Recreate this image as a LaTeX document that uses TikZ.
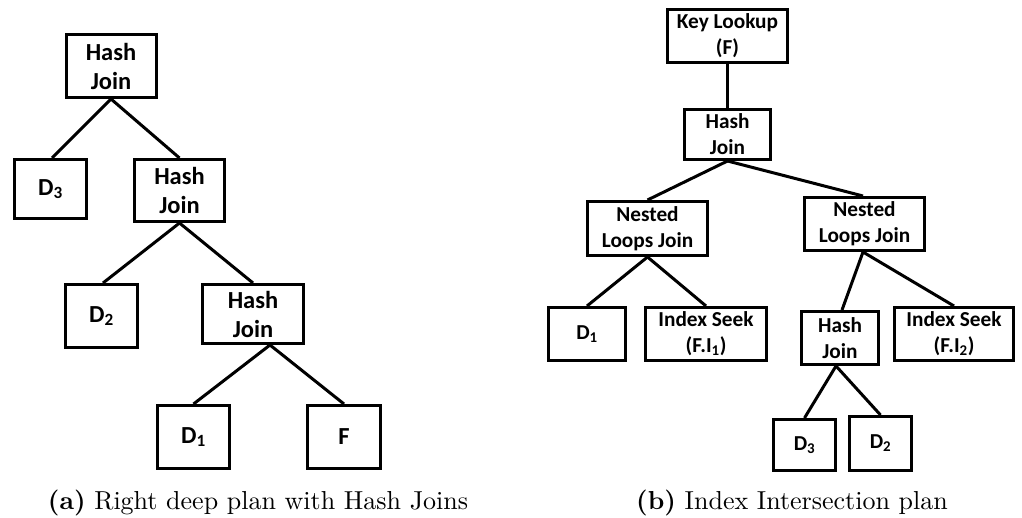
\documentclass[tikz,border=0pt]{standalone}
\usepackage{fontspec}
\newfontfamily\boxfont{Carlito}
\newfontfamily\capfont{lmroman10}[Extension=.otf,UprightFont=*-regular,BoldFont=*-bold]
\begin{document}
\begin{tikzpicture}[x=1pt,y=-1pt,
  box/.style={draw=black,line width=3pt,rectangle,inner sep=0pt,align=center,
    font=\boxfont\bfseries},
  lbox/.style={box,font=\boxfont\bfseries\fontsize{24.5}{29}\selectfont},
  rbox/.style={box,font=\boxfont\bfseries\fontsize{21.3}{26}\selectfont},
  edge/.style={line width=3pt},
  captext/.style={anchor=base,font=\capfont\fontsize{26}{30}\selectfont}]
\useasboundingbox (0,0) rectangle (1022,518);
% left tree
\node[lbox,minimum width=90,minimum height=63] (a1) at (111,66) {Hash\\Join};
\node[lbox,minimum width=72,minimum height=59] (a2) at (50.5,189) {D\textsubscript{3}};
\node[lbox,minimum width=90,minimum height=62] (a3) at (179.5,190.5) {Hash\\Join};
\node[lbox,minimum width=72,minimum height=63] (a4) at (101.5,316) {D\textsubscript{2}};
\node[lbox,minimum width=101,minimum height=59] (a5) at (253,314) {Hash\\Join};
\node[lbox,minimum width=72,minimum height=63] (a6) at (193.5,437) {D\textsubscript{1}};
\node[lbox,minimum width=73,minimum height=63] (a7) at (344,437) {F};
\draw[edge] (a1.south) -- ([xshift=1.5pt]a2.north);
\draw[edge] (a1.south) -- (a3.north);
\draw[edge] (a3.south) -- ([xshift=1.5pt]a4.north);
\draw[edge] (a3.south) -- (a5.north);
\draw[edge] ([xshift=17pt]a5.south) -- (a6.north);
\draw[edge] ([xshift=17pt]a5.south) -- (a7.north);
% right tree
\node[rbox,minimum width=120,minimum height=53] (b1) at (727.5,36) {Key Lookup\\(F)};
\node[rbox,minimum width=86,minimum height=50] (b2) at (727.5,134.5) {Hash\\Join};
\node[rbox,minimum width=120,minimum height=54] (b3) at (647.5,228.5) {Nested\\Loops Join};
\node[rbox,minimum width=120,minimum height=53] (b4) at (864.5,224) {Nested\\Loops Join};
\node[rbox,minimum width=77,minimum height=53] (b5) at (587,334) {D\textsubscript{1}};
\node[rbox,minimum width=121,minimum height=53] (b6) at (706,334) {Index Seek\\(F.I\textsubscript{1})};
\node[rbox,minimum width=77,minimum height=53] (b7) at (840,338) {Hash\\Join};
\node[rbox,minimum width=119,minimum height=53] (b8) at (954,334) {Index Seek\\(F.I\textsubscript{2})};
\node[rbox,minimum width=62,minimum height=51] (b9) at (804.5,445) {D\textsubscript{3}};
\node[rbox,minimum width=62,minimum height=54] (b10) at (880.5,443.5) {D\textsubscript{2}};
\draw[edge] (b1.south) -- (b2.north);
\draw[edge] (b2.south) -- (b3.north);
\draw[edge] (b2.south) -- ([xshift=-1.5pt]b4.north);
\draw[edge] (b3.south) -- (b5.north);
\draw[edge] (b3.south) -- (b6.north);
\draw[edge] ([xshift=-1.5pt]b4.south) -- ([xshift=2pt]b7.north);
\draw[edge] ([xshift=-1.5pt]b4.south) -- (b8.north);
\draw[edge] ([xshift=-4pt]b7.south) -- (b9.north);
\draw[edge] ([xshift=-4pt]b7.south) -- (b10.north);
% captions
\node[captext] (capa) at (258,509) {\textbf{(a)} Right deep plan with Hash Joins};
\node[captext] (capb) at (792,509) {\textbf{(b)} Index Intersection plan};
\end{tikzpicture}
\end{document}
